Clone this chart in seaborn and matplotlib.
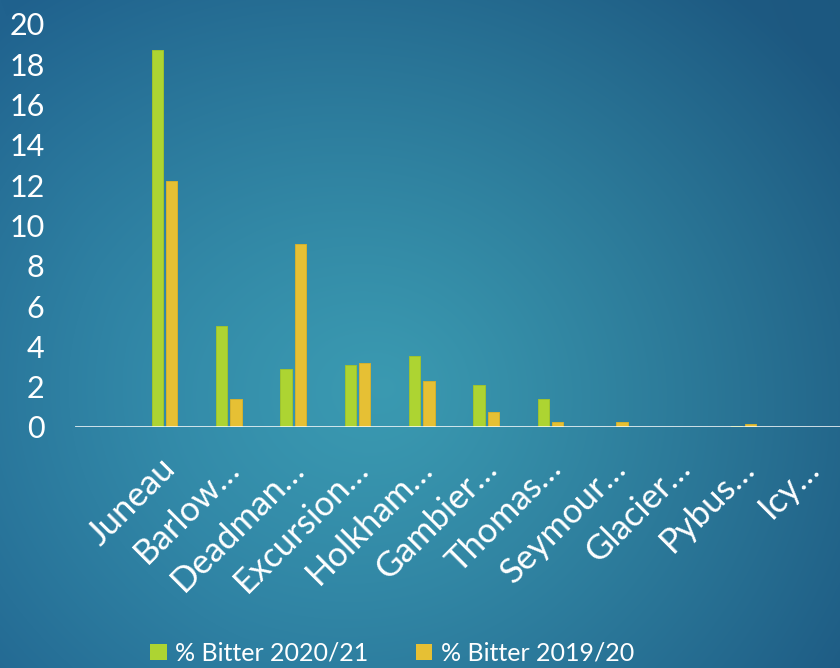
import numpy as np
import pandas as pd
import matplotlib
matplotlib.use("Agg")
import matplotlib.pyplot as plt
import matplotlib.transforms as mtransforms
from matplotlib.colors import to_rgb
from matplotlib.patches import Patch
import seaborn as sns

# ---- data ----
sites = ["Juneau", "Barlow…", "Deadman…", "Excursion…", "Holkham…", "Gambier…",
         "Thomas…", "Seymour…", "Glacier…", "Pybus…", "Icy…"]
bitter_2020_21 = [18.7, 5.0, 2.9, 3.1, 3.5, 2.1, 1.4, 0.0, 0.0, 0.07, 0.0]
bitter_2019_20 = [12.2, 1.4, 9.1, 3.2, 2.3, 0.75, 0.25, 0.25, 0.0, 0.15, 0.0]
series_names = ["% Bitter 2020/21", "% Bitter 2019/20"]
y_ticks = [0, 2, 4, 6, 8, 10, 12, 14, 16, 18, 20]

df = pd.DataFrame({
    "site": sites * 2,
    "value": bitter_2020_21 + bitter_2019_20,
    "series": [series_names[0]] * len(sites) + [series_names[1]] * len(sites),
})

GREEN = "#ADD432"
YELLOW = "#E6C034"

sns.set_theme(style="white")
plt.rcParams["font.family"] = ["Lato", "DejaVu Sans"]

W, H = 840, 668
fig = plt.figure(figsize=(W / 100, H / 100), dpi=100)

# ---- radial teal background ----
bg = fig.add_axes([0, 0, 1, 1], zorder=-10)
yy, xx = np.mgrid[0:1:H * 1j, 0:1:W * 1j]
cx, cy = 0.46, 0.58
d = np.sqrt(((xx - cx) / 0.9) ** 2 + ((yy - cy) / 1.0) ** 2)
d = np.clip(d / 0.75, 0, 1) ** 1.2
center = np.array([60, 158, 182]) / 255
edge = np.array([32, 98, 142]) / 255
img = center[None, None, :] * (1 - d[..., None]) + edge[None, None, :] * d[..., None]
# slightly darker toward the top-right
shade = 1 - 0.10 * np.clip(xx - yy * 0.3, 0, 1)[..., None]
img = np.clip(img * shade, 0, 1)
bg.imshow(img, aspect="auto", extent=[0, 1, 0, 1], origin="upper")
bg.axis("off")

# ---- bars ----
ax = fig.add_axes([75 / W, 1 - 427 / H, 1 - 75 / W, (427 - 24) / H])
ax.patch.set_alpha(0)
sns.barplot(data=df, x="site", y="value", hue="series", order=sites,
            hue_order=series_names, palette=[GREEN, YELLOW], saturation=1,
            width=0.44, gap=0.2, ax=ax, legend=False, zorder=3)
for p in ax.patches:
    fc = np.array(to_rgb(p.get_facecolor()))
    p.set_edgecolor(tuple(fc * 0.92))
    p.set_linewidth(0.7)

ax.set_xlim(-1.39, 10.5)
ax.set_ylim(0, 20)
ax.set_yticks(y_ticks)
ax.set_xlabel("")
ax.set_ylabel("")
for s in ax.spines.values():
    s.set_visible(False)
ax.axhline(0, color="white", lw=1.8, zorder=4)

ax.tick_params(axis="y", length=0, pad=22, labelsize=22, labelcolor="white")
ax.tick_params(axis="x", length=0, pad=26, labelsize=25, labelcolor="white")
offset = mtransforms.ScaledTranslation(6 / 100, 0, fig.dpi_scale_trans)
for lab in ax.get_xticklabels():
    lab.set_rotation(45)
    lab.set_ha("right")
    lab.set_va("center")
    lab.set_rotation_mode("anchor")
    lab.set_transform(lab.get_transform() + offset)

# ---- legend ----
handles = [Patch(facecolor=GREEN, edgecolor="none"), Patch(facecolor=YELLOW, edgecolor="none")]
leg = fig.legend(handles, series_names, loc="center", bbox_to_anchor=(0.467, 0.022),
                 ncol=2, frameon=False, fontsize=18, handlelength=0.65, handleheight=0.65,
                 handletextpad=0.35, columnspacing=1.9, borderpad=0)
for t in leg.get_texts():
    t.set_color("white")

fig.savefig("out.png", dpi=100)
